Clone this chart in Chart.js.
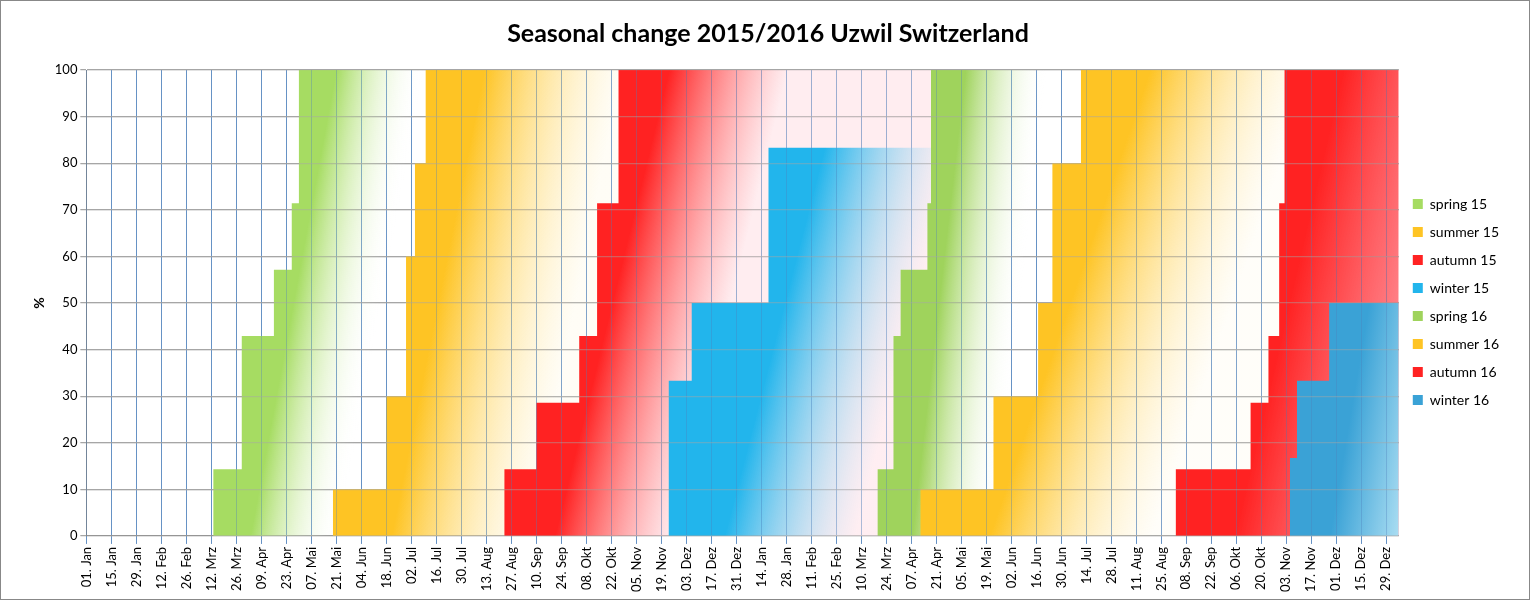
<!DOCTYPE html>
<html>
<head>
<meta charset="utf-8">
<script src="https://cdn.jsdelivr.net/npm/chart.js@4"></script>
<style>
  html, body { margin: 0; padding: 0; background: #fff; }
  #wrap { width: 1528px; height: 598px; border: 1px solid #888; }
</style>
</head>
<body>
<div id="wrap"><canvas id="chart" width="1528" height="598"></canvas></div>
<script>
// days counted from 01 Jan 2015
var seriesNames = ['spring 15', 'summer 15', 'autumn 15', 'winter 15', 'spring 16', 'summer 16', 'autumn 16', 'winter 16'];
var solidColors = ['#a6dc62', '#fec424', '#ff2222', '#22b5ec', '#9fd35c', '#fec424', '#ff2222', '#3aa2d6'];
var fadeColors = ['rgba(255,255,255,0)', 'rgba(255,248,225,0.3)', 'rgba(255,225,230,0.6)', 'rgba(255,240,245,0.4)',
                  'rgba(255,255,255,0)', 'rgba(255,250,235,0.3)', 'rgba(255,120,130,0.8)', 'rgba(210,242,252,1)'];
var fadeDays = [70, 110, 95, 105, 65, 130, 110, 75];

// step days and values per season
var stepDays = [
  [71, 87, 105, 115, 119, 190],
  [138, 168, 179, 184, 190, 298],
  [234, 252, 276, 286, 298, 473],
  [326, 339, 382, 473],
  [443, 452, 456, 471, 473, 549],
  [467, 508, 533, 541, 557, 671],
  [610, 652, 662, 668, 671, 735],
  [674, 678, 696, 735]
];
var stepValues = [
  [14.3, 42.9, 57.1, 71.4, 100, 100],
  [10, 30, 60, 80, 100, 100],
  [14.3, 28.6, 42.9, 71.4, 100, 100],
  [33.3, 50, 83.3, 83.3],
  [14.3, 42.9, 57.1, 71.4, 100, 100],
  [10, 30, 50, 80, 100, 100],
  [14.3, 28.6, 42.9, 71.4, 100, 100],
  [16.7, 33.3, 50, 50]
];
var monthNames = ['Jan', 'Feb', 'Mrz', 'Apr', 'Mai', 'Jun', 'Jul', 'Aug', 'Sep', 'Okt', 'Nov', 'Dez'];

function dayLabel(v) {
  var d = new Date(Date.UTC(2015, 0, 1) + v * 864e5);
  var dd = d.getUTCDate();
  return (dd < 10 ? '0' + dd : dd) + '. ' + monthNames[d.getUTCMonth()];
}

function makeGradient(i) {
  return function(ctx) {
    var chart = ctx.chart;
    var area = chart.chartArea;
    if (!area) return solidColors[i];
    var xs = chart.scales.x, ys = chart.scales.y;
    var days = stepDays[i], vals = stepValues[i];
    var topIdx = vals.indexOf(Math.max.apply(null, vals));
    var a = xs.getPixelForValue(days[0]);
    var b = xs.getPixelForValue(days[topIdx]);
    var bottom = ys.getPixelForValue(0);
    var H = bottom - ys.getPixelForValue(vals[topIdx]);
    var W = xs.getPixelForValue(days[0] + fadeDays[i]) - a;
    var len2 = (b - a) * (b - a) + H * H;
    var g = chart.ctx.createLinearGradient(a, bottom, a + W * H * H / len2, bottom + W * H * (b - a) / len2);
    g.addColorStop(0, solidColors[i]);
    g.addColorStop(0.3, solidColors[i]);
    g.addColorStop(1, fadeColors[i]);
    return g;
  };
}

var datasets = seriesNames.map(function(name, i) {
  var pts = [{x: stepDays[i][0], y: 0}];
  stepDays[i].forEach(function(d, k) { pts.push({x: d, y: stepValues[i][k]}); });
  pts.push({x: stepDays[i][stepDays[i].length - 1], y: 0});
  return {
    label: name,
    data: pts,
    stepped: 'before',
    fill: 'origin',
    borderWidth: 0,
    pointRadius: 0,
    backgroundColor: makeGradient(i),
    order: seriesNames.length - i
  };
});

var gridOnTop = {
  id: 'gridOnTop',
  afterDatasetsDraw: function(chart) {
    chart.ctx.save();
    chart.ctx.globalAlpha = 0.45;
    chart.scales.x.drawGrid(chart.chartArea);
    chart.scales.y.drawGrid(chart.chartArea);
    chart.ctx.restore();
  }
};

new Chart(document.getElementById('chart'), {
  type: 'line',
  data: { datasets: datasets },
  plugins: [gridOnTop],
  options: {
    responsive: false,
    animation: false,
    layout: { padding: { left: 26, right: 20, top: 8, bottom: 4 } },
    plugins: {
      title: {
        display: true,
        text: 'Seasonal change 2015/2016 Uzwil Switzerland',
        color: '#000',
        font: { family: 'Lato', size: 25, weight: 'bold' },
        padding: { top: 10, bottom: 21 }
      },
      legend: {
        position: 'right',
        labels: {
          color: '#000',
          font: { family: 'Lato', size: 14 },
          boxWidth: 10,
          boxHeight: 10,
          padding: 14,
          sort: function(a, b) { return a.datasetIndex - b.datasetIndex; },
          generateLabels: function(chart) {
            return chart.data.datasets.map(function(ds, i) {
              return { text: ds.label, fillStyle: solidColors[i], strokeStyle: solidColors[i], lineWidth: 0, datasetIndex: i, fontColor: '#000' };
            });
          }
        }
      },
      tooltip: { enabled: false }
    },
    scales: {
      x: {
        type: 'linear',
        min: 0,
        max: 735,
        afterBuildTicks: function(scale) {
          var t = [];
          for (var v = 0; v <= 728; v += 14) t.push({ value: v });
          scale.ticks = t;
        },
        ticks: {
          autoSkip: false,
          maxRotation: 90,
          minRotation: 90,
          color: '#000',
          font: { family: 'Lato', size: 13 },
          callback: function(v) { return dayLabel(v); }
        },
        grid: { color: '#4f81bd', lineWidth: 0.8, tickLength: 8 },
        border: { color: '#888' }
      },
      y: {
        min: 0,
        max: 100,
        ticks: { stepSize: 10, color: '#000', font: { family: 'Lato', size: 13 } },
        title: { display: true, text: '%', color: '#000', font: { family: 'Lato', size: 14, weight: 'bold' } },
        grid: { color: '#a6a6a6', lineWidth: 1.2, tickLength: 6 },
        border: { color: '#888' }
      }
    }
  }
});
</script>
</body>
</html>
